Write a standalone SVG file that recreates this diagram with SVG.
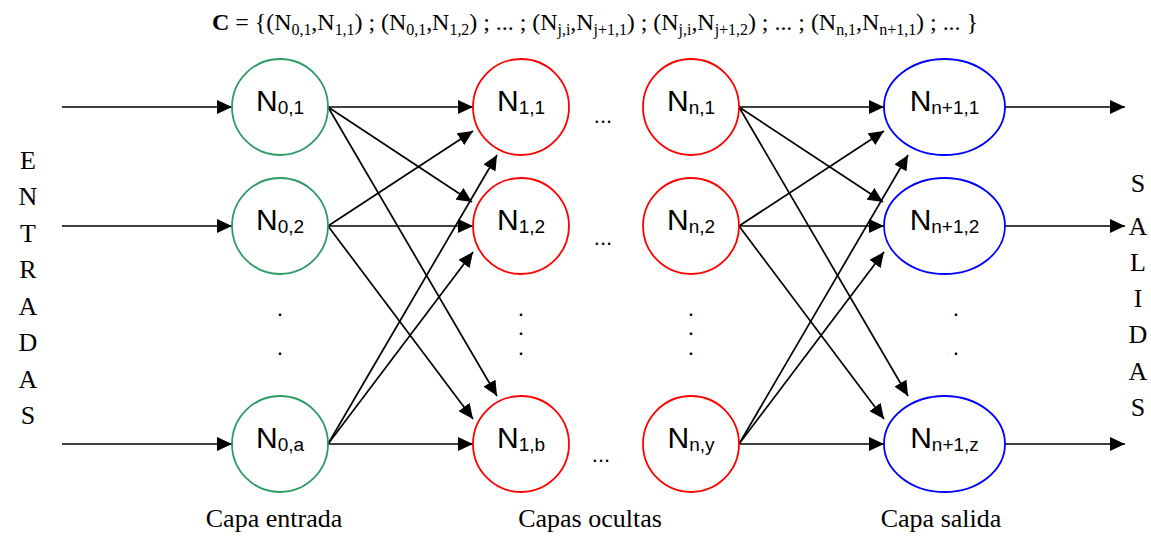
<svg xmlns="http://www.w3.org/2000/svg" width="1151" height="542" viewBox="0 0 1151 542">
<style>
.in{fill:#fff;stroke:#2e9b63;stroke-width:1.8}
.hid{fill:#fff;stroke:#ff0000;stroke-width:1.8}
.out{fill:#fff;stroke:#0000ff;stroke-width:1.8}
.lbl{font-family:"Liberation Sans",Arial,sans-serif;fill:#000}
.ser{font-family:"Liberation Serif","Times New Roman",serif;fill:#000}
.c line{stroke:#000;stroke-width:1.7;marker-end:url(#ah)}
.s{font-size:16px}
.d{font-size:16px;font-weight:bold}
</style>
<defs>
<marker id="ah" markerUnits="userSpaceOnUse" markerWidth="16" markerHeight="14" refX="15" refY="7" orient="auto">
<path d="M0,0 L15,7 L0,14 z" fill="#000"/>
</marker>
</defs>
<rect width="1151" height="542" fill="#fff"/>
<text class="ser" x="212" y="30" font-size="24" textLength="766" lengthAdjust="spacing"><tspan font-weight="bold">C</tspan> = {(N<tspan class="s" dy="5">0,1</tspan><tspan dy="-5">,N</tspan><tspan class="s" dy="5">1,1</tspan><tspan dy="-5">) ; (N</tspan><tspan class="s" dy="5">0,1</tspan><tspan dy="-5">,N</tspan><tspan class="s" dy="5">1,2</tspan><tspan dy="-5">) ; ... ; (N</tspan><tspan class="s" dy="5">j,i</tspan><tspan dy="-5">,N</tspan><tspan class="s" dy="5">j+1,1</tspan><tspan dy="-5">) ; (N</tspan><tspan class="s" dy="5">j,i</tspan><tspan dy="-5">,N</tspan><tspan class="s" dy="5">j+1,2</tspan><tspan dy="-5">) ; ... ; (N</tspan><tspan class="s" dy="5">n,1</tspan><tspan dy="-5">,N</tspan><tspan class="s" dy="5">n+1,1</tspan><tspan dy="-5">) ; ... }</tspan></text>
<g class="c" id="connectors">
<line x1="62" y1="107" x2="232" y2="107"/>
<line x1="62" y1="226" x2="232" y2="226"/>
<line x1="62" y1="444" x2="232" y2="444"/>
<line x1="328" y1="107" x2="473" y2="107"/>
<line x1="328" y1="107" x2="472" y2="202"/>
<line x1="328" y1="107" x2="497" y2="396"/>
<line x1="328" y1="226" x2="473" y2="131"/>
<line x1="328" y1="226" x2="473" y2="226"/>
<line x1="328" y1="226" x2="473" y2="419"/>
<line x1="328" y1="444" x2="497" y2="155"/>
<line x1="328" y1="444" x2="473" y2="252"/>
<line x1="328" y1="444" x2="473" y2="444"/>
<line x1="739" y1="107" x2="884" y2="107"/>
<line x1="739" y1="107" x2="883" y2="202"/>
<line x1="739" y1="107" x2="908" y2="396"/>
<line x1="739" y1="226" x2="884" y2="131"/>
<line x1="739" y1="226" x2="884" y2="226"/>
<line x1="739" y1="226" x2="884" y2="419"/>
<line x1="739" y1="444" x2="908" y2="155"/>
<line x1="739" y1="444" x2="884" y2="252"/>
<line x1="739" y1="444" x2="884" y2="444"/>
<line x1="1005" y1="107" x2="1125" y2="107"/>
<line x1="1005" y1="226" x2="1125" y2="226"/>
<line x1="1005" y1="444" x2="1125" y2="444"/>
</g>
<g id="n01"><circle class="in" cx="280" cy="107" r="48"/><text class="lbl" x="280" y="111" text-anchor="middle"><tspan font-size="30">N</tspan><tspan font-size="19" dy="3">0,1</tspan></text></g>
<g id="n02"><circle class="in" cx="280" cy="226" r="48"/><text class="lbl" x="280" y="230" text-anchor="middle"><tspan font-size="30">N</tspan><tspan font-size="19" dy="3">0,2</tspan></text></g>
<g id="n0a"><circle class="in" cx="280" cy="444" r="48"/><text class="lbl" x="280" y="448" text-anchor="middle"><tspan font-size="30">N</tspan><tspan font-size="19" dy="3">0,a</tspan></text></g>
<g id="n11"><circle class="hid" cx="521" cy="107" r="48"/><text class="lbl" x="521" y="111" text-anchor="middle"><tspan font-size="30">N</tspan><tspan font-size="19" dy="3">1,1</tspan></text></g>
<g id="n12"><circle class="hid" cx="521" cy="226" r="48"/><text class="lbl" x="521" y="230" text-anchor="middle"><tspan font-size="30">N</tspan><tspan font-size="19" dy="3">1,2</tspan></text></g>
<g id="n1b"><circle class="hid" cx="521" cy="444" r="48"/><text class="lbl" x="521" y="448" text-anchor="middle"><tspan font-size="30">N</tspan><tspan font-size="19" dy="3">1,b</tspan></text></g>
<g id="nn1"><circle class="hid" cx="691" cy="107" r="48"/><text class="lbl" x="691" y="111" text-anchor="middle"><tspan font-size="30">N</tspan><tspan font-size="19" dy="3">n,1</tspan></text></g>
<g id="nn2"><circle class="hid" cx="691" cy="226" r="48"/><text class="lbl" x="691" y="230" text-anchor="middle"><tspan font-size="30">N</tspan><tspan font-size="19" dy="3">n,2</tspan></text></g>
<g id="nny"><circle class="hid" cx="691" cy="444" r="48"/><text class="lbl" x="691" y="448" text-anchor="middle"><tspan font-size="30">N</tspan><tspan font-size="19" dy="3">n,y</tspan></text></g>
<g id="no1"><ellipse class="out" cx="944.5" cy="107" rx="60.5" ry="48"/><text class="lbl" x="944.5" y="111" text-anchor="middle"><tspan font-size="30">N</tspan><tspan font-size="19" dy="3">n+1,1</tspan></text></g>
<g id="no2"><ellipse class="out" cx="944.5" cy="226" rx="60.5" ry="48"/><text class="lbl" x="944.5" y="230" text-anchor="middle"><tspan font-size="30">N</tspan><tspan font-size="19" dy="3">n+1,2</tspan></text></g>
<g id="noz"><ellipse class="out" cx="944.5" cy="444" rx="60.5" ry="48"/><text class="lbl" x="944.5" y="448" text-anchor="middle"><tspan font-size="30">N</tspan><tspan font-size="19" dy="3">n+1,z</tspan></text></g>
<g class="lbl" font-size="22" text-anchor="middle">
<text x="603" y="123">...</text>
<text x="603" y="245">...</text>
<text x="601" y="462">...</text>
<text class="d"><tspan x="280" y="316">.</tspan><tspan x="280" y="355">.</tspan></text>
<text class="d"><tspan x="521" y="316">.</tspan><tspan x="521" y="335">.</tspan><tspan x="521" y="355">.</tspan></text>
<text class="d"><tspan x="691" y="316">.</tspan><tspan x="691" y="335">.</tspan><tspan x="691" y="355">.</tspan></text>
<text class="d"><tspan x="956" y="316">.</tspan><tspan x="956" y="355">.</tspan></text>
</g>
<g class="ser" font-size="26" text-anchor="middle">
<text x="28" y="169">E</text><text x="28" y="205">N</text><text x="28" y="242">T</text><text x="28" y="278">R</text><text x="28" y="315">A</text><text x="28" y="351">D</text><text x="28" y="388">A</text><text x="28" y="424">S</text>
<text x="1138" y="192">S</text><text x="1138" y="235">A</text><text x="1138" y="271">L</text><text x="1138" y="307">I</text><text x="1138" y="343">D</text><text x="1138" y="380">A</text><text x="1138" y="416">S</text>
</g>
<g class="ser" font-size="26" text-anchor="middle">
<text x="274" y="527">Capa entrada</text>
<text x="590" y="527">Capas ocultas</text>
<text x="941" y="527">Capa salida</text>
</g>
</svg>
